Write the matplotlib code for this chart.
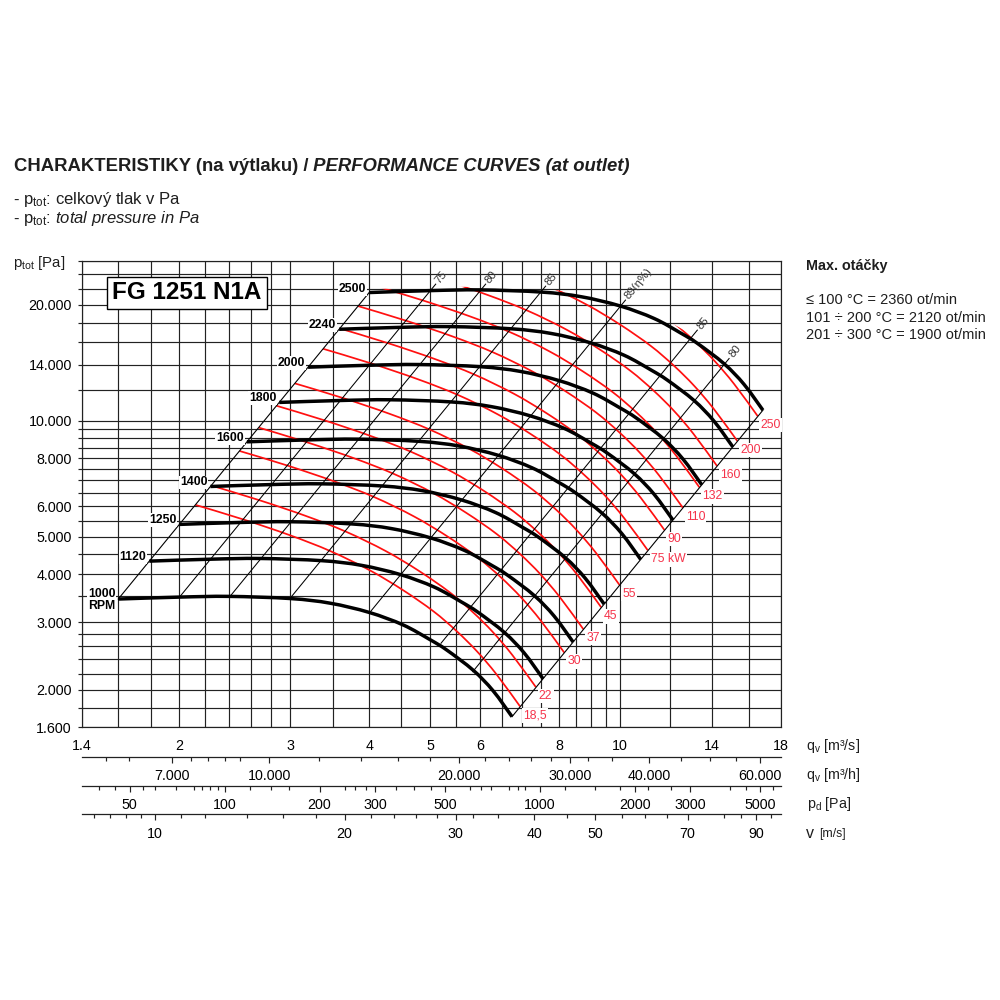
import numpy as np
import matplotlib
matplotlib.use('Agg')
import matplotlib.pyplot as plt
from matplotlib.ticker import FixedLocator, FixedFormatter, NullLocator, NullFormatter
from matplotlib.patches import Polygon, PathPatch
from matplotlib.path import Path

plt.rcParams['font.family'] = ['Liberation Sans', 'DejaVu Sans']
plt.rcParams['mathtext.fontset'] = 'custom'
plt.rcParams['mathtext.rm'] = 'Liberation Sans'
plt.rcParams['mathtext.it'] = 'Liberation Sans:italic'
plt.rcParams['mathtext.bf'] = 'Liberation Sans:bold'

# ---------------- data ----------------
# fan curve at 1000 RPM (q in m3/s, p_tot in Pa); other speeds follow the fan affinity laws
speeds_rpm = [1000, 1120, 1250, 1400, 1600, 1800, 2000, 2240, 2500]
speed_labels = ['1000\nRPM', '1120', '1250', '1400', '1600', '1800', '2000', '2240', '2500']
curve_1000_q = [1.60, 2.00, 2.40, 3.00, 3.47, 4.00, 4.53, 5.00, 5.31, 5.85, 6.29, 6.74]
curve_1000_p = [3445, 3485, 3500, 3455, 3360, 3180, 2950, 2700, 2540, 2250, 1990, 1705]

# motor power line for 18.5 kW; the other power lines are affinity copies (P ~ n^3)
power_kw = [18.5, 22, 30, 37, 45, 55, 75, 90, 110, 132, 160, 200, 250]
power_labels = ['18,5', '22', '30', '37', '45', '55', '75 kW', '90', '110', '132', '160', '200', '250']
power_18_5_q = [2.12, 2.53, 3.00, 3.47, 4.01, 4.53, 5.06, 5.51, 5.93, 6.37, 6.94]
power_18_5_p = [6050, 5540, 5040, 4590, 4090, 3630, 3200, 2840, 2520, 2195, 1813]

# efficiency lines: crossing point with the 2500 RPM curve
eff_labels = ['75', '80', '85', '89(η%)', '85', '80']
eff_q_2500 = [5.0, 6.0, 7.47, 10.0, 13.0, 14.6]
eff_p_2500 = [21760, 21760, 21500, 19780, 16530, 13950]

# grid / ticks
x_grid = [1.4, 1.6, 1.8, 2, 2.2, 2.4, 2.6, 2.8, 3, 3.5, 4, 4.5, 5, 5.5, 6, 6.5, 7, 7.5,
          8, 8.5, 9, 9.5, 10, 12, 14, 16, 18]
x_labels = {1.4: '1.4', 2: '2', 3: '3', 4: '4', 5: '5', 6: '6', 8: '8', 10: '10', 14: '14', 18: '18'}
y_grid = [1600, 1800, 2000, 2200, 2400, 2600, 2800, 3000, 3500, 4000, 4500, 5000, 5500,
          6000, 6500, 7000, 7500, 8000, 8500, 9000, 9500, 10000, 12000, 14000, 16000,
          18000, 20000, 22000, 24000, 26000]
y_labels = {1600: '1.600', 2000: '2.000', 3000: '3.000', 4000: '4.000', 5000: '5.000',
            6000: '6.000', 8000: '8.000', 10000: '10.000', 14000: '14.000', 20000: '20.000'}

m3h_major = [7000, 10000, 20000, 30000, 40000, 60000]
m3h_major_labels = ['7.000', '10.000', '20.000', '30.000', '40.000', '60.000']
m3h_minor = [5500, 6000, 7500, 8000, 8500, 9000, 12000, 14000, 16000, 18000, 22000, 24000,
             26000, 28000, 32000, 35000, 45000, 50000, 55000]
pd_major = [50, 100, 200, 300, 500, 1000, 2000, 3000, 5000]
pd_major_labels = ['50', '100', '200', '300', '500', '1000', '2000', '3000', '5000']
pd_minor = [40, 45, 55, 60, 70, 80, 85, 90, 95, 120, 140, 160, 240, 260, 280, 350, 400, 450,
            600, 650, 700, 800, 850, 900, 1200, 1500, 1800, 2200, 2600, 4000, 4500, 5500]
v_major = [10, 20, 30, 40, 50, 70, 90]
v_major_labels = ['10', '20', '30', '40', '50', '70', '90']
v_minor = [8, 8.5, 9, 9.5, 11, 12, 14, 16, 18, 22, 24, 26, 28, 32, 35, 45, 55, 60, 65, 80, 85, 95]

OUTLET_AREA = 0.1828   # m2 (v = q / A)
AIR_DENSITY = 1.2      # kg/m3 (p_d = rho/2 * v^2)
Q_MIN, Q_MAX = 1.4, 18.0
P_MIN, P_MAX = 1600, 26000

# ---------------- figure ----------------
fig = plt.figure(figsize=(10, 10), dpi=100)
L, R, T, B = 81.7, 781.0, 261.0, 727.3
W = (R - L) / 1000
ax = fig.add_axes([L / 1000, 1 - B / 1000, W, (B - T) / 1000])
ax.set_xscale('log')
ax.set_yscale('log')
ax.set_xlim(Q_MIN, Q_MAX)
ax.set_ylim(P_MIN, P_MAX)

grid_col = '#222222'
ax.xaxis.set_major_locator(FixedLocator(x_grid))
ax.xaxis.set_major_formatter(FixedFormatter([x_labels.get(v, '') for v in x_grid]))
ax.xaxis.set_minor_locator(NullLocator())
ax.yaxis.set_major_locator(FixedLocator(y_grid))
ax.yaxis.set_major_formatter(FixedFormatter([y_labels.get(v, '') for v in y_grid]))
ax.yaxis.set_minor_locator(NullLocator())
ax.grid(True, which='major', color=grid_col, lw=0.85)
ax.set_axisbelow(True)
ax.tick_params(axis='x', length=0, pad=8.5, labelsize=10.3)
ax.tick_params(axis='y', length=2.6, width=0.85, color=grid_col, direction='out', pad=4.5,
               labelsize=10.3)
for sp in ax.spines.values():
    sp.set_linewidth(0.85)
    sp.set_color(grid_col)


def smooth_curve(q, p, **kw):
    """Smooth curve through the read points (cubic Bezier segments in log-log space)."""
    pts = np.column_stack([np.log10(q), np.log10(p)])
    n = len(pts)
    verts = [pts[0]]
    codes = [Path.MOVETO]
    for i in range(n - 1):
        a = pts[i - 1] if i > 0 else pts[i]
        b = pts[i]
        c = pts[i + 1]
        d = pts[i + 2] if i + 2 < n else pts[i + 1]
        verts += [b + (c - a) / 6.0, c - (d - b) / 6.0, c]
        codes += [Path.CURVE4] * 3
    path = Path(10 ** np.array(verts), codes)
    patch = PathPatch(path, fill=False, transform=ax.transData, **kw)
    ax.add_patch(patch)
    return patch


q0 = np.array(curve_1000_q)
p0 = np.array(curve_1000_p)
s_lo = speeds_rpm[0] / 1000
s_hi = speeds_rpm[-1] / 1000

# speed curves
for n, lab in zip(speeds_rpm, speed_labels):
    s = n / 1000
    smooth_curve(q0 * s, p0 * s ** 2, ec='black', lw=2.5, capstyle='butt', zorder=5)
    dy = -1.3 if '\n' in lab else 4
    ax.annotate(lab, (q0[0] * s, p0[0] * s ** 2), xytext=(-3, dy), textcoords='offset pixels',
                ha='right', va='center', fontsize=8.8, weight='bold', multialignment='right',
                linespacing=1.0, zorder=7,
                bbox=dict(boxstyle='square,pad=0.08', fc='white', ec='none'))

# start and end boundary lines
for qq, pp in [(q0[0], p0[0]), (q0[-1], p0[-1])]:
    ax.plot([qq * s_lo, qq * s_hi], [pp * s_lo ** 2, pp * s_hi ** 2], color='black', lw=0.8,
            zorder=4)

# efficiency lines
r0 = speeds_rpm[0] / speeds_rpm[-1]
r1 = 1.02
for lab, qt, pt in zip(eff_labels, eff_q_2500, eff_p_2500):
    ax.plot([qt * r0, qt * r1], [pt * r0 ** 2, pt * r1 ** 2], color='black', lw=0.75, zorder=4)
    a = ax.transData.transform([(qt * r0, pt * r0 ** 2), (qt * r1, pt * r1 ** 2)])
    ang = np.degrees(np.arctan2(a[1, 1] - a[0, 1], a[1, 0] - a[0, 0]))
    ax.annotate(lab, (qt * 1.026, pt * 1.026 ** 2), rotation=ang, rotation_mode='anchor',
                ha='left', va='center', fontsize=8.2, color='#333333', zorder=7)

# power lines, clipped to the operating field
top_s = s_hi * 1.01
clip_q = [q0[0] * 0.8] + list(q0 * top_s) + [q0[-1] * 0.8]
clip_p = [p0[0] * 0.64] + list(p0 * top_s ** 2) + [p0[-1] * 0.64]
clip_poly = Polygon(np.column_stack([clip_q, clip_p]), closed=True, transform=ax.transData,
                    fc='none', ec='none')
pq = np.array(power_18_5_q)
ppw = np.array(power_18_5_p)
for P, lab in zip(power_kw, power_labels):
    s = (P / power_kw[0]) ** (1 / 3)
    patch = smooth_curve(pq * s, ppw * s ** 2, ec='#ff1010', lw=1.25, zorder=3)
    patch.set_clip_path(clip_poly)
    ax.annotate(lab, (pq[-1] * s, ppw[-1] * s ** 2), xytext=(3, -9), textcoords='offset pixels',
                color='#f5334a', fontsize=8.8, ha='left', va='center', zorder=7,
                annotation_clip=False,
                bbox=dict(boxstyle='square,pad=0.1', fc='white', ec='none'))


# ---------------- secondary scales ----------------
def secondary(ypix, lim, major, major_labels, minor):
    a = fig.add_axes([L / 1000, 1 - ypix / 1000, W, 0.0001])
    a.set_xscale('log')
    a.set_xlim(*lim)
    a.xaxis.set_major_locator(FixedLocator(major))
    a.xaxis.set_major_formatter(FixedFormatter(major_labels))
    a.xaxis.set_minor_locator(FixedLocator(minor))
    a.xaxis.set_minor_formatter(NullFormatter())
    a.set_yticks([])
    for k in ['top', 'left', 'right']:
        a.spines[k].set_visible(False)
    a.spines['bottom'].set_linewidth(0.9)
    a.spines['bottom'].set_color(grid_col)
    a.tick_params(which='major', length=4.3, width=0.85, color=grid_col, direction='out',
                  pad=4.5, labelsize=10.3)
    a.tick_params(which='minor', length=3.0, width=0.85, color=grid_col, direction='out')
    a.patch.set_visible(False)
    return a


def to_v(q):
    return q / OUTLET_AREA


def to_pd(q):
    return 0.5 * AIR_DENSITY * to_v(q) ** 2


secondary(756.7, (Q_MIN * 3600, Q_MAX * 3600), m3h_major, m3h_major_labels, m3h_minor)
secondary(786.0, (to_pd(Q_MIN), to_pd(Q_MAX)), pd_major, pd_major_labels, pd_minor)
secondary(814.3, (to_v(Q_MIN), to_v(Q_MAX)), v_major, v_major_labels, v_minor)


# ---------------- texts ----------------
def fx(x):
    return x / 1000


def fy(y):
    return 1 - y / 1000


txt_col = '#1e1e1e'
t1 = fig.text(fx(14), fy(166.7), 'CHARAKTERISTIKY (na výtlaku) /', fontsize=13.3,
              weight='bold', va='center', color=txt_col)
ax.annotate(' PERFORMANCE CURVES (at outlet)', xy=(1, 0.5), xycoords=t1, fontsize=13.3,
            weight='bold', style='italic', va='center', ha='left', color=txt_col)
fig.text(fx(13), fy(199), r'- $\mathregular{p_{tot}}$: celkový tlak v Pa', fontsize=12,
         va='center', color=txt_col)
fig.text(fx(13), fy(218), r'- $\mathregular{p_{tot}}$: $\mathit{total\ pressure\ in\ Pa}$',
         fontsize=12, va='center', color=txt_col)
fig.text(fx(13), fy(263), r'$\mathregular{p_{tot}}$ [Pa]', fontsize=10.8, va='center',
         color=txt_col)

fig.text(fx(187), fy(293), 'FG 1251 N1A', fontsize=17.5, weight='bold', ha='center',
         va='center', bbox=dict(boxstyle='square,pad=0.2', fc='white', ec='black', lw=1.0))

fig.text(fx(806), fy(266), 'Max. otáčky', fontsize=10.4, weight='bold', va='center',
         color=txt_col)
fig.text(fx(806), fy(300), '≤ 100 °C = 2360 ot/min', fontsize=10.5, va='center', color=txt_col)
fig.text(fx(806), fy(318), '101 ÷ 200 °C = 2120 ot/min', fontsize=10.5, va='center',
         color=txt_col)
fig.text(fx(806), fy(335), '201 ÷ 300 °C = 1900 ot/min', fontsize=10.5, va='center',
         color=txt_col)

fig.text(fx(806), fy(746), r'$\mathregular{q_{v}}$ [m³/s]', fontsize=10.3, va='center',
         color=txt_col)
fig.text(fx(806), fy(775), r'$\mathregular{q_{v}}$ [m³/h]', fontsize=10.3, va='center',
         color=txt_col)
fig.text(fx(807), fy(804), r'$\mathregular{p_{d}}$ [Pa]', fontsize=10.3, va='center',
         color=txt_col)
fig.text(fx(806), fy(833), 'v', fontsize=11.5, va='center', color=txt_col)
fig.text(fx(819), fy(834), '[m/s]', fontsize=8.8, va='center', color=txt_col)

fig.savefig('out.png', dpi=100)
